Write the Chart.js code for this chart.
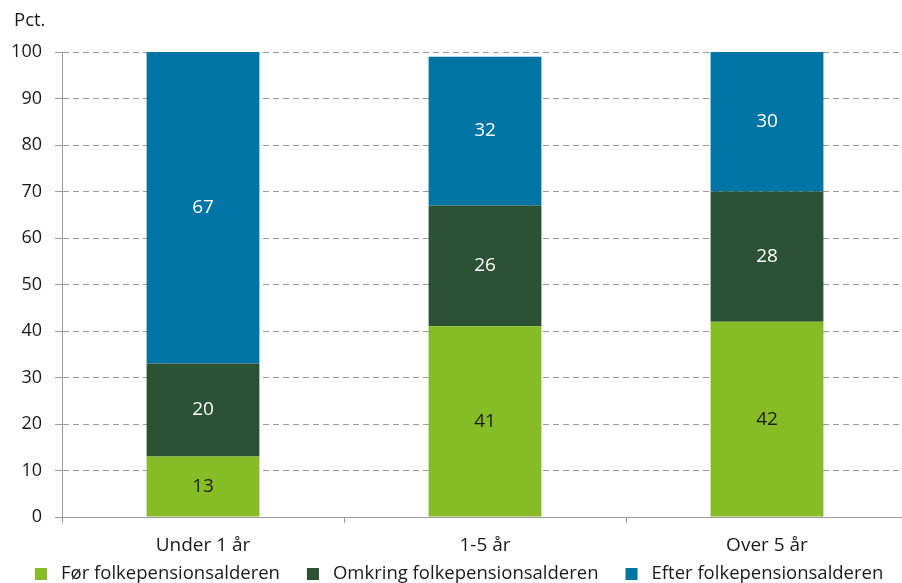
<!DOCTYPE html>
<html>
<head>
<meta charset="utf-8">
<script src="https://cdn.jsdelivr.net/npm/chart.js@4.4.1/dist/chart.umd.min.js"></script>
<style>
  html, body { margin: 0; padding: 0; background: #fff; overflow: hidden; }
  #wrap { width: 910px; height: 583px; }
</style>
</head>
<body>
<div id="wrap"><canvas id="c" width="910" height="583"></canvas></div>
<script>
// Andel fordelt efter tidspunkt i forhold til folkepensionsalderen (pct.)
const categories = ['Under 1 år', '1-5 år', 'Over 5 år'];
const seriesNames = ['Før folkepensionsalderen', 'Omkring folkepensionsalderen', 'Efter folkepensionsalderen'];
const foer = [13, 41, 42];
const omkring = [20, 26, 28];
const efter = [67, 32, 30];
const yTicks = [0, 10, 20, 30, 40, 50, 60, 70, 80, 90, 100];

const colors = ['#86bc25', '#2b5234', '#0075a5'];
const labelColors = ['#1a1a1a', '#ffffff', '#ffffff'];
const FONT = '"Open Sans", sans-serif';

const overlay = {
  id: 'overlay',
  afterDatasetsDraw(chart) {
    const ctx = chart.ctx;
    ctx.save();
    ctx.font = '19px ' + FONT;
    ctx.textAlign = 'center';
    ctx.textBaseline = 'middle';
    chart.data.datasets.forEach((ds, di) => {
      const meta = chart.getDatasetMeta(di);
      meta.data.forEach((bar, i) => {
        ctx.fillStyle = labelColors[di];
        ctx.fillText(String(ds.data[i]), bar.x, (bar.y + bar.base) / 2);
      });
    });
    ctx.restore();
  },
  afterDraw(chart) {
    const ctx = chart.ctx;
    ctx.save();
    ctx.font = '18.5px ' + FONT;
    ctx.fillStyle = '#1a1a1a';
    ctx.textBaseline = 'middle';
    ctx.textAlign = 'left';
    ctx.fillText('Pct.', 14, 21);
    // legend row
    let x = 35;
    const y = 574;
    seriesNames.forEach((name, i) => {
      ctx.fillStyle = colors[i];
      ctx.fillRect(x, y - 6, 12, 12);
      ctx.fillStyle = '#1a1a1a';
      ctx.fillText(name, x + 26, y);
      x += 26 + ctx.measureText(name).width + 27;
    });
    ctx.restore();
  }
};

new Chart(document.getElementById('c'), {
  type: 'bar',
  data: {
    labels: categories,
    datasets: [
      { label: seriesNames[0], data: foer, backgroundColor: colors[0] },
      { label: seriesNames[1], data: omkring, backgroundColor: colors[1] },
      { label: seriesNames[2], data: efter, backgroundColor: colors[2] }
    ]
  },
  options: {
    responsive: false,
    animation: false,
    devicePixelRatio: 1,
    layout: { padding: { top: 52, left: 0, right: 2, bottom: 0 } },
    datasets: { bar: { categoryPercentage: 1, barPercentage: 0.4 } },
    plugins: { legend: { display: false }, tooltip: { enabled: false } },
    scales: {
      x: {
        stacked: true,
        offset: true,
        afterFit(s) { s.height = 66; },
        grid: { offset: true, drawOnChartArea: false, drawTicks: true, tickLength: 6, color: '#9a9a9a' },
        border: { color: '#9a9a9a', width: 1 },
        ticks: { color: '#1a1a1a', font: { family: FONT, size: 19 }, padding: 11 }
      },
      y: {
        stacked: true,
        min: 0,
        max: 100,
        afterFit(s) { s.width = 62; },
        afterBuildTicks(s) { s.ticks = yTicks.map(v => ({ value: v })); },
        grid: { color: '#9a9a9a', lineWidth: 1, tickLength: 7, drawTicks: true },
        border: { display: true, color: '#9a9a9a', width: 1, dash: [6, 4] },
        ticks: { color: '#1a1a1a', font: { family: FONT, size: 18 }, padding: 13 }
      }
    }
  },
  plugins: [overlay]
});
</script>
</body>
</html>
